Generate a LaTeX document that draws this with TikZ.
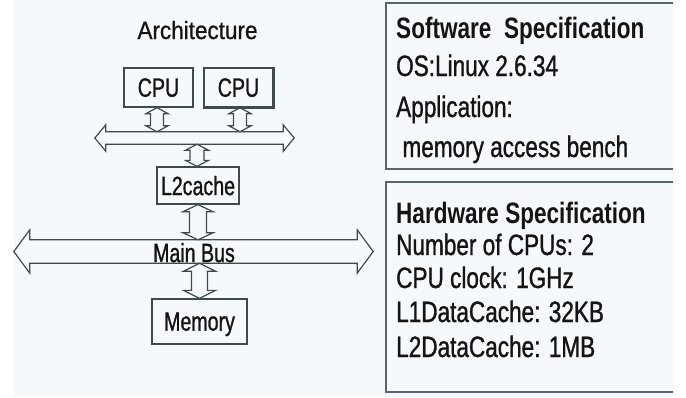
\documentclass[tikz,border=0pt]{standalone}
\usepackage{fontspec}
\setmainfont{Liberation Sans}
\newfontfamily\archfont[FakeStretch=0.9,FakeBold=0.8]{Liberation Sans}
\newfontfamily\boxfont[FakeStretch=0.74,FakeBold=1]{Liberation Sans}
\newfontfamily\specfont[FakeStretch=0.765,FakeBold=1]{Liberation Sans}
\newfontfamily\specbold[FakeStretch=0.765]{Liberation Sans Bold}
\usetikzlibrary{calc}
\definecolor{bgc}{HTML}{F6F9FC}
\definecolor{linec}{HTML}{3F4B4B}
\definecolor{speclinec}{HTML}{56666A}
\definecolor{txt}{HTML}{141414}

\tikzset{
  unitbox/.style={draw=linec, line width=1.3pt, inner sep=0pt, text depth=0pt,
    font=\boxfont\fontsize{26.5}{30}\selectfont, text=txt},
  blk/.style={draw=linec, line width=1.2pt, line join=miter},
  shaftnode/.style={inner sep=0pt, draw=none},
  buslabel/.style={inner sep=0pt, text depth=0pt, font=\boxfont\fontsize{26.5}{30}\selectfont, text=txt},
  specborder/.style={draw=speclinec, line width=2pt},
  specarea/.style={inner sep=0pt, draw=none},
  spectext/.style={anchor=base west, inner sep=0pt,
    font=\specfont\fontsize{29.5}{33}\selectfont, text=txt},
  spechead/.style={spectext, font=\specbold\fontsize{29.5}{33}\selectfont},
}

% horizontal block double arrow drawn round a shaft node (tip to tip)
\newcommand\busoutline[3]{%
  \draw[blk] let \p1=(#1.west), \p2=(#1.east), \p3=(#1.north), \p4=(#1.south) in
    (\x1,\y1) -- (\x1+#3,\y3+#2) -- (\x1+#3,\y3) -- (\x2-#3,\y3) -- (\x2-#3,\y3+#2)
    -- (\x2,\y2) -- (\x2-#3,\y4-#2) -- (\x2-#3,\y4) -- (\x1+#3,\y4) -- (\x1+#3,\y4-#2) -- cycle;}

% vertical block double arrow from point #1 (top) to point #2 (bottom)
\newcommand\vlink[5]{%
  \draw[blk] let \p1=(#1), \p2=(#2) in
    (\x1,\y1) -- (\x1-#4,\y1-#5) -- (\x1-#3,\y1-#5) -- (\x1-#3,\y2+#5) -- (\x1-#4,\y2+#5)
    -- (\x1,\y2) -- (\x1+#4,\y2+#5) -- (\x1+#3,\y2+#5) -- (\x1+#3,\y1-#5) -- (\x1+#4,\y1-#5) -- cycle;}

\begin{document}
\begin{tikzpicture}[x=1pt,y=-1pt]
\useasboundingbox (0,0) rectangle (686,397);
\fill[white] (0,0) rectangle (686,397);
\fill[bgc] (14,0) rectangle (673,397);

% title
\node[anchor=base, inner sep=0pt, font=\archfont\fontsize{25}{30}\selectfont, text=txt]
  (arch) at (197.5,39) {Architecture};

% units
\node[unitbox, minimum width=69pt, minimum height=39pt] (cpu1) at (158.5,87.5) {CPU};
\node[unitbox, minimum width=69pt, minimum height=39pt] (cpu2) at (238.5,87.5) {CPU};
\draw[linec, line width=2.2pt] (cpu2.north east) -- (cpu2.south east) -- (cpu2.south west);
\node[unitbox, minimum width=82pt, minimum height=37pt] (l2) at (198,185.5) {L2cache};
\node[unitbox, minimum width=95pt, minimum height=45pt] (mem) at (199.5,321.5) {Memory};

% buses
\node[shaftnode, minimum width=199pt, minimum height=12pt] (bus1) at (194.5,138) {};
\busoutline{bus1}{7pt}{11pt}
\node[shaftnode, minimum width=359pt, minimum height=23pt] (mainbus) at (193.5,251.5) {};
\busoutline{mainbus}{10pt}{16pt}
\node[buslabel] (mainbuslabel) at ([xshift=0.5pt,yshift=-1pt]mainbus.center) {Main Bus};

% links
\vlink{[xshift=-1.5pt]cpu1.south}{[xshift=-1.5pt]cpu1.south |- bus1.north}{6.5pt}{11pt}{6pt}
\vlink{[xshift=1.5pt]cpu2.south}{[xshift=1.5pt]cpu2.south |- bus1.north}{6.5pt}{11pt}{6pt}
\vlink{[xshift=-1pt]l2.north |- bus1.south}{[xshift=-1pt]l2.north}{7pt}{11.5pt}{6pt}
\vlink{l2.south}{l2.south |- mainbus.north}{8.5pt}{15pt}{7pt}
\vlink{mem.north |- mainbus.south}{mem.north}{8pt}{16pt}{8pt}

% specification boxes (right side cropped)
\node[specarea, minimum width=287pt, minimum height=166pt, anchor=north west] (sw) at (386,3) {};
\draw[specborder] (sw.north east) -- (sw.north west) -- (sw.south west) -- (sw.south east);
\node[specarea, minimum width=287pt, minimum height=210pt, anchor=north west] (hw) at (386,182) {};
\draw[specborder] (hw.north east) -- (hw.north west) -- (hw.south west) -- (hw.south east);

\node[spechead] (sw1) at (396,38) {Software\ \ Specification};
\node[spectext] (sw2) at (396,76) {OS:Linux 2.6.34};
\node[spectext] (sw3) at (396,117) {Application:};
\node[spectext] (sw4) at (396,157) {\ memory access bench};

\node[spechead] (hw1) at (396,223) {Hardware Specification};
\node[spectext] (hw2) at (396,255) {Number of CPUs: 2};
\node[spectext] (hw3) at (396,288) {CPU clock: 1GHz};
\node[spectext] (hw4) at (396,322) {L1DataCache: 32KB};
\node[spectext] (hw5) at (396,357) {L2DataCache: 1MB};
\end{tikzpicture}
\end{document}
